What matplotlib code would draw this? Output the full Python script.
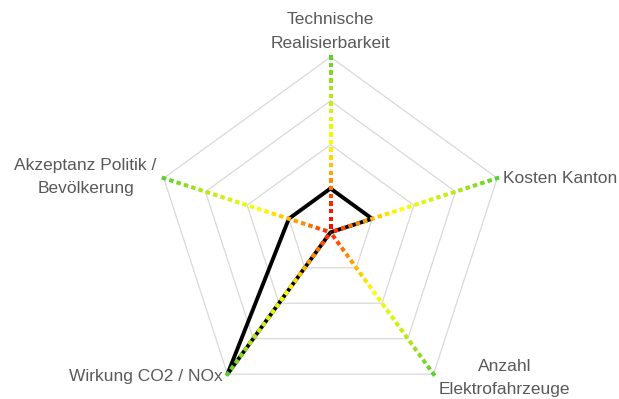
import numpy as np
import matplotlib
matplotlib.use("Agg")
import matplotlib.pyplot as plt
from matplotlib.collections import LineCollection
from matplotlib.colors import LinearSegmentedColormap

# Criteria (clockwise from the top) and scores on a 0-4 scale
categories = [
    "Technische\nRealisierbarkeit",
    "Kosten Kanton",
    "Anzahl\nElektrofahrzeuge",
    "Wirkung CO2 / NOx",
    "Akzeptanz Politik /\nBevölkerung",
]
scores = [1, 1, 0, 4, 1]
grid_levels = [1, 2, 3, 4]
r_max = 4

# Red -> orange -> yellow -> green gradient used along each criterion axis
gradient = LinearSegmentedColormap.from_list(
    "rating",
    [(0.0, "#ff0000"), (0.15, "#ff1a00"), (0.26, "#ff7a00"), (0.36, "#ffb400"),
     (0.5, "#ffff00"), (0.75, "#c4ec10"), (1.0, "#5ecf2e")],
)
# where each axis enters the gradient at the centre
gradient_start = [0.0, 0.15, 0.15, 0.15, 0.15]

W, H, DPI = 619, 399, 100
fig = plt.figure(figsize=(W / DPI, H / DPI), dpi=DPI)
fig.patch.set_facecolor("white")

cx, cy, R = 330.5, 232.3, 175.3   # centre and outer radius in pixels
ax = fig.add_axes([(cx - R) / W, (H - cy - R) / H, 2 * R / W, 2 * R / H],
                  projection="polar")
ax.set_theta_zero_location("N")
ax.set_theta_direction(-1)
ax.set_ylim(0, r_max)
ax.grid(False)
ax.set_xticks([])
ax.set_yticks([])
ax.spines["polar"].set_visible(False)
ax.patch.set_alpha(0)

n = len(categories)
angles = np.linspace(0, 2 * np.pi, n, endpoint=False)
closed = np.append(angles, angles[0])

# Pentagon grid
for lvl in grid_levels:
    ax.plot(closed, [lvl] * (n + 1), color="#d9d9d9", lw=0.9,
            zorder=1, clip_on=False)

# Score polygon
vals = list(scores) + [scores[0]]
ax.plot(closed, vals, color="black", lw=2.8, solid_joinstyle="round",
        zorder=3, clip_on=False)

# Gradient dotted axes, dashes laid out from the outer end inwards
px = r_max / R
dash, gap = 4.5 * px, 3.2 * px
segs, cols = [], []
for a, g0 in zip(angles, gradient_start):
    top = r_max + 2 * px
    while top > 0:
        lo = max(top - dash, 0)
        t = np.clip((lo + top) / 2 / r_max, 0, 1)
        segs.append([(a, lo), (a, top)])
        cols.append(gradient(g0 + (1 - g0) * t))
        top -= dash + gap
lc = LineCollection(segs, colors=cols, linewidths=2.9, capstyle="butt",
                    zorder=4, clip_on=False)
ax.add_collection(lc)

# Category labels, offset in pixels from each outer vertex
to_pt = 72 / DPI
label_style = [
    ((0, 6.5), "center", "bottom"),
    ((6, 0), "left", "center"),
    ((71, 15.3), "center", "top"),
    ((-5, -2), "right", "center"),
    ((-7, 1), "right", "center"),
]
for a, lab, (off, ha, va) in zip(angles, categories, label_style):
    ax.annotate(lab, xy=(a, r_max), xytext=(off[0] * to_pt, off[1] * to_pt),
                textcoords="offset points", ha=ha, va=va, multialignment="center",
                fontsize=12.5, family="Liberation Sans", color="#595959",
                linespacing=1.7, annotation_clip=False)

fig.savefig("out.png", dpi=DPI)
